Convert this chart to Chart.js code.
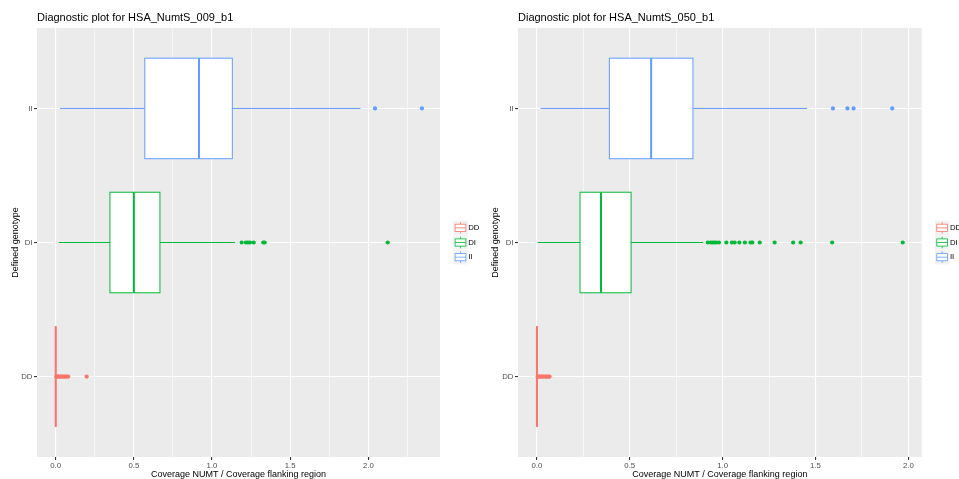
<!DOCTYPE html>
<html lang="en">
<head>
<meta charset="UTF-8">
<title>Diagnostic plots</title>
<script src="https://cdn.jsdelivr.net/npm/chart.js"></script>
<style>
  body { margin: 0; background: #fff; }
  .panel { position: absolute; top: 0; }
</style>
</head>
<body>
<div class="panel" style="left:0"><canvas id="left" width="480" height="479"></canvas></div>
<div class="panel" style="left:480px"><canvas id="right" width="479" height="479"></canvas></div>
<script>
// categories and colours (ggplot default hues)
const genotypes = ['DD', 'DI', 'II'];
const colours = ['#F8766D', '#00BA38', '#619CFF'];

// x tick positions (majors get labels, minors only a grid line)
const xTicks009 = [0, 0.25, 0.5, 0.75, 1, 1.25, 1.5, 1.75, 2, 2.25];
const xTicks050 = [0, 0.25, 0.5, 0.75, 1, 1.25, 1.5, 1.75, 2];

// box stats per genotype: [lower whisker, q1, median, q3, upper whisker]
const boxes009 = [
  [0, 0, 0, 0, 0],
  [0.02, 0.347, 0.50, 0.667, 1.147],
  [0.027, 0.57, 0.917, 1.13, 1.95]
];
const boxes050 = [
  [0, 0, 0, 0, 0],
  [0.005, 0.232, 0.345, 0.507, 0.895],
  [0.02, 0.39, 0.615, 0.84, 1.455]
];

// outliers
const out009DD = [0.004, 0.009, 0.014, 0.02, 0.027, 0.034, 0.041, 0.048, 0.056, 0.064, 0.072, 0.08, 0.198];
const out009DI = [1.19, 1.217, 1.23, 1.243, 1.267, 1.328, 1.337, 2.124];
const out009II = [2.043, 2.343];
const out050DD = [0.004, 0.008, 0.013, 0.019, 0.025, 0.031, 0.037, 0.044, 0.05, 0.056, 0.063, 0.068];
const out050DI = [0.92, 0.935, 0.945, 0.955, 0.965, 0.98, 1.02, 1.05, 1.065, 1.09, 1.12, 1.15, 1.16, 1.2, 1.28, 1.38, 1.42, 1.59, 1.97];
const out050II = [1.594, 1.672, 1.705, 1.913];

Chart.defaults.font.family = '"Liberation Sans", Arial, Helvetica, sans-serif';

// draws panel background, boxes, title and legend the ggplot way
const ggPlugin = {
  id: 'gg',
  beforeDraw(chart) {
    const a = chart.chartArea, ctx = chart.ctx;
    ctx.save();
    ctx.fillStyle = '#EBEBEB';
    ctx.fillRect(a.left, a.top, a.right - a.left, a.bottom - a.top);
    ctx.restore();
  },
  beforeDatasetsDraw(chart, args, opts) {
    const ctx = chart.ctx, xs = chart.scales.x, ys = chart.scales.y;
    ctx.save();
    opts.boxes.forEach((b, i) => {
      const yc = ys.getPixelForValue(i + 1);
      const half = Math.abs(ys.getPixelForValue(i + 1.375) - yc);
      const [lo, q1, med, q3, hi] = b.map(v => xs.getPixelForValue(v));
      ctx.strokeStyle = colours[i];
      ctx.lineWidth = 1;
      ctx.beginPath();
      ctx.moveTo(lo, yc); ctx.lineTo(q1, yc);
      ctx.moveTo(q3, yc); ctx.lineTo(hi, yc);
      ctx.stroke();
      ctx.fillStyle = '#fff';
      ctx.fillRect(q1, yc - half, q3 - q1, 2 * half);
      ctx.strokeRect(q1, yc - half, q3 - q1, 2 * half);
      ctx.lineWidth = 2;
      ctx.beginPath();
      ctx.moveTo(med, yc - half); ctx.lineTo(med, yc + half);
      ctx.stroke();
    });
    ctx.restore();
  },
  afterDraw(chart, args, opts) {
    const ctx = chart.ctx, a = chart.chartArea;
    ctx.save();
    // title
    ctx.fillStyle = '#000';
    ctx.font = '11px "Liberation Sans", Arial, sans-serif';
    ctx.textBaseline = 'middle';
    ctx.textAlign = 'left';
    ctx.fillText(opts.title, a.left, 17.5);
    // legend
    const cx = a.right + 20.5, cy = (a.top + a.bottom) / 2, key = 14.4;
    genotypes.forEach((g, i) => {
      const y = cy + (i - 1) * 14.7;
      ctx.fillStyle = '#F2F2F2';
      ctx.fillRect(cx - key / 2, y - key / 2, key, key);
      ctx.strokeStyle = colours[i];
      ctx.lineWidth = 0.8;
      ctx.beginPath();
      ctx.moveTo(cx, y - key * 0.4); ctx.lineTo(cx, y - key * 0.25);
      ctx.moveTo(cx, y + key * 0.25); ctx.lineTo(cx, y + key * 0.4);
      ctx.stroke();
      ctx.fillStyle = '#fff';
      ctx.fillRect(cx - key * 0.375, y - key * 0.25, key * 0.75, key * 0.5);
      ctx.strokeRect(cx - key * 0.375, y - key * 0.25, key * 0.75, key * 0.5);
      ctx.beginPath();
      ctx.moveTo(cx - key * 0.375, y); ctx.lineTo(cx + key * 0.375, y);
      ctx.stroke();
      ctx.fillStyle = '#000';
      ctx.font = '7.8px "Liberation Sans", Arial, sans-serif';
      ctx.fillText(g, cx + key / 2 + 0.5, y);
    });
    ctx.restore();
  }
};

function makePanel(id, title, boxes, outliers, ticks, xMin, xMax, yWidth, padRight) {
  const datasets = outliers.map((vals, i) => ({
    data: vals.map(v => ({ x: v, y: i + 1 })),
    backgroundColor: colours[i],
    borderWidth: 0,
    pointRadius: 2.1,
    pointHoverRadius: 2.1
  }));
  const isMajor = v => Math.abs(v * 2 - Math.round(v * 2)) < 1e-9;
  new Chart(document.getElementById(id), {
    type: 'scatter',
    data: { datasets },
    options: {
      responsive: false,
      animation: false,
      devicePixelRatio: 1,
      events: [],
      layout: { padding: { left: 0, right: padRight, top: 28, bottom: 0 } },
      plugins: {
        legend: { display: false },
        tooltip: { enabled: false },
        gg: { title, boxes }
      },
      scales: {
        x: {
          type: 'linear',
          min: xMin,
          max: xMax,
          afterBuildTicks: s => { s.ticks = ticks.map(v => ({ value: v })); },
          afterFit: s => { s.height = 22; },
          border: { display: false },
          grid: {
            color: '#fff',
            lineWidth: c => isMajor(c.tick.value) ? 1.1 : 0.55,
            tickColor: c => isMajor(c.tick.value) ? '#333333' : 'rgba(0,0,0,0)',
            tickLength: 3
          },
          ticks: {
            autoSkip: false,
            maxRotation: 0,
            padding: 1,
            color: '#4D4D4D',
            font: { size: 7.8 },
            callback: v => isMajor(v) ? v.toFixed(1) : ''
          },
          title: {
            display: true,
            text: 'Coverage NUMT / Coverage flanking region',
            color: '#000',
            font: { size: 9, lineHeight: 1 },
            padding: { top: 0, bottom: 0 }
          }
        },
        y: {
          type: 'linear',
          min: 0.4,
          max: 3.6,
          afterBuildTicks: s => { s.ticks = [1, 2, 3].map(v => ({ value: v })); },
          afterFit: s => { s.width = yWidth; },
          border: { display: false },
          grid: { color: '#fff', lineWidth: 1.1, tickColor: '#333333', tickLength: 3 },
          ticks: {
            padding: 1.5,
            color: '#4D4D4D',
            font: { size: 7.8 },
            callback: v => genotypes[v - 1]
          },
          title: {
            display: true,
            text: 'Defined genotype',
            color: '#000',
            font: { size: 9, lineHeight: 1.2 },
            padding: { top: 10, bottom: 0 }
          }
        }
      }
    },
    plugins: [ggPlugin]
  });
}

makePanel('left', 'Diagnostic plot for HSA_NumtS_009_b1', boxes009,
  [out009DD, out009DI, out009II], xTicks009, -0.1196, 2.4587, 37, 40);
makePanel('right', 'Diagnostic plot for HSA_NumtS_050_b1', boxes050,
  [out050DD, out050DI, out050II], xTicks050, -0.102, 2.072, 38, 37.3);
</script>
</body>
</html>
